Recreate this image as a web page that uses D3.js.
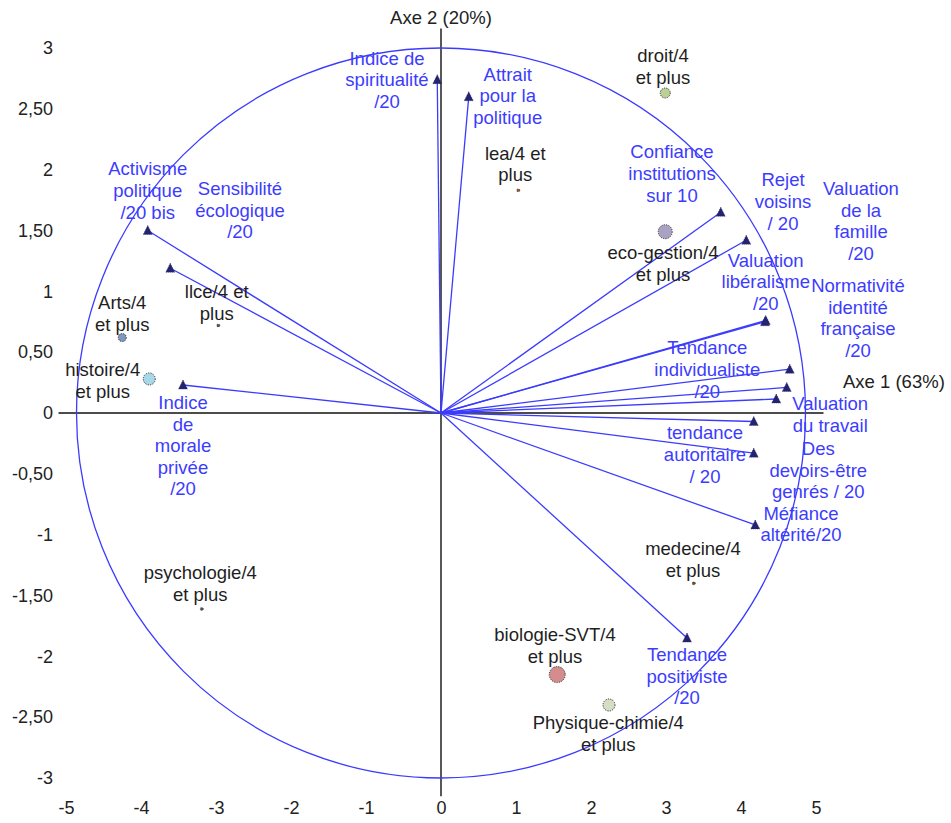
<!DOCTYPE html>
<html lang="fr">
<head>
<meta charset="UTF-8">
<title>ACP - cercle des correlations</title>
<script src="https://cdn.jsdelivr.net/npm/d3@7"></script>
<style>
  * { margin: 0; padding: 0; }
  body { background: #fff; }
  svg text { font-family: "Liberation Sans", Arial, sans-serif; }
</style>
</head>
<body>
<div id="chart"></div>
<script>
// ---- variables (arrows) ----
var varNames = [
  "Indice de\nspiritualité\n/20",
  "Attrait\npour la\npolitique",
  "Activisme\npolitique\n/20 bis",
  "Sensibilité\nécologique\n/20",
  "Indice\nde\nmorale\nprivée\n/20",
  "Confiance\ninstitutions\nsur 10",
  "Rejet\nvoisins\n/ 20",
  "Valuation\nde la\nfamille\n/20",
  "Valuation\nlibéralisme\n/20",
  "Normativité\nidentité\nfrançaise\n/20",
  "Tendance\nindividualiste\n/20",
  "Valuation\ndu travail",
  "Des\ndevoirs-être\ngenrés / 20",
  "tendance\nautoritaire\n/ 20",
  "Méfiance\naltérité/20",
  "Tendance\npositiviste\n/20"
];
var varX = [-0.05, 0.37, -3.91, -3.61, -3.44, 3.73, 4.07, 4.33, 4.32, 4.65, 4.61, 4.47, 4.17, 4.17, 4.19, 3.28];
var varY = [2.74, 2.60, 1.50, 1.19, 0.23, 1.65, 1.42, 0.76, 0.75, 0.36, 0.21, 0.115, -0.07, -0.33, -0.92, -1.85];
// label anchors (first line)
var varLabelX = [-0.72, 0.89, -3.91, -2.68, -3.44, 3.08, 4.56, 5.60, 4.33, 5.56, 3.55, 5.19, 5.03, 3.52, 4.80, 3.28];
var varLabelY = [2.92, 2.79, 2.01, 1.85, 0.09, 2.15, 1.92, 1.85, 1.26, 1.05, 0.54, 0.08, -0.29, -0.16, -0.82, -1.98];

// ---- individuals (supplementary points) ----
var indNames = [
  "droit/4\net plus", "lea/4 et\nplus", "eco-gestion/4\net plus", "Arts/4\net plus",
  "histoire/4\net plus", "llce/4 et\nplus", "psychologie/4\net plus", "medecine/4\net plus",
  "biologie-SVT/4\net plus", "Physique-chimie/4\net plus"
];
var indX = [2.99, 1.03, 2.99, -4.25, -3.89, -2.97, -3.19, 3.37, 1.55, 2.24];
var indY = [2.63, 1.83, 1.49, 0.62, 0.28, 0.72, -1.61, -1.40, -2.15, -2.40];
var indWeight = [5, 1.5, 7, 4, 6, 1.5, 1.5, 1.5, 8, 6];
var indColor = ["#bccf94", "#a0522d", "#aaa2c2", "#8098c0", "#a8d8e8", "#555555", "#555555", "#8b4513", "#d48c8c", "#d4dec4"];
var indLabelX = [2.96, 0.99, 2.96, -4.25, -4.51, -2.99, -3.21, 3.36, 1.52, 2.23];
var indLabelY = [2.94, 2.14, 1.32, 0.91, 0.36, 1.00, -1.31, -1.11, -1.82, -2.54];

// ---- axes ----
var xTicks = [-5, -4, -3, -2, -1, 0, 1, 2, 3, 4, 5];
var yTicks = [-3, -2.5, -2, -1.5, -1, -0.5, 0, 0.5, 1, 1.5, 2, 2.5, 3];
var circleRx = 4.86, circleRy = 3.0;
var axis1Title = "Axe 1 (63%)", axis2Title = "Axe 2 (20%)";

var width = 951, height = 823;
var blue = "#3b3bff", labelBlue = "#3c3cff";

var svg = d3.select("#chart").append("svg")
  .attr("width", width)
  .attr("height", height);

var x = d3.scaleLinear().domain([-5, 5]).range([66, 816]);
var y = d3.scaleLinear().domain([-3, 3]).range([778, 48]);

function fmt(d) {
  return d === Math.round(d) ? String(d) : d.toFixed(2).replace(".", ",");
}

// tick labels only, no tick marks
var yAxis = svg.append("g")
  .attr("transform", "translate(53,0)")
  .call(d3.axisLeft(y).tickValues(yTicks).tickSize(0).tickPadding(0).tickFormat(fmt));
var xAxis = svg.append("g")
  .attr("transform", "translate(0,808)")
  .call(d3.axisBottom(x).tickValues(xTicks).tickSize(0).tickPadding(0).tickFormat(fmt));
svg.selectAll(".domain").remove();
svg.selectAll(".tick text")
  .style("font-family", "'Liberation Sans', Arial, sans-serif")
  .style("font-size", "18px")
  .attr("fill", "#222");
xAxis.selectAll(".tick text").attr("y", 0).attr("dy", "0.35em");

// axis lines through origin
svg.append("line")
  .attr("x1", x(-5.1)).attr("x2", x(5.1))
  .attr("y1", y(0)).attr("y2", y(0))
  .attr("stroke", "#111").attr("stroke-width", 1.4);
svg.append("line")
  .attr("x1", x(0)).attr("x2", x(0))
  .attr("y1", y(3.16)).attr("y2", y(-3.15))
  .attr("stroke", "#111").attr("stroke-width", 1.4);

svg.append("text")
  .attr("x", x(0)).attr("y", y(3.25)).attr("dy", "0.35em")
  .attr("text-anchor", "middle")
  .style("font-size", "18.5px").attr("fill", "#222")
  .text(axis2Title);
svg.append("text")
  .attr("x", x(5.36)).attr("y", y(0.255)).attr("dy", "0.35em")
  .style("font-size", "18.5px").attr("fill", "#222")
  .text(axis1Title);

// correlation circle
svg.append("ellipse")
  .attr("cx", x(0)).attr("cy", y(0))
  .attr("rx", x(circleRx) - x(0))
  .attr("ry", y(0) - y(circleRy))
  .attr("fill", "none")
  .attr("stroke", blue).attr("stroke-width", 1.3);

// arrows
var vars = varNames.map(function(n, i) {
  return { name: n, x: varX[i], y: varY[i], lx: varLabelX[i], ly: varLabelY[i] };
});

svg.append("g").selectAll("line")
  .data(vars).enter().append("line")
  .attr("x1", x(0)).attr("y1", y(0))
  .attr("x2", function(d) { return x(d.x); })
  .attr("y2", function(d) { return y(d.y); })
  .attr("stroke", blue).attr("stroke-width", 1.3);

svg.append("g").selectAll("path")
  .data(vars).enter().append("path")
  .attr("transform", function(d) { return "translate(" + x(d.x) + "," + y(d.y) + ")"; })
  .attr("d", "M0,-5 L4.5,4 L-4.5,4 Z")
  .attr("fill", "#24246e")
  .attr("stroke", "#24246e").attr("stroke-width", 0.6)
  .attr("stroke-dasharray", "1,1");

// multi-line labels
function multiLabel(sel, color) {
  sel.each(function(d) {
    var t = d3.select(this);
    d.name.split("\n").forEach(function(line, k) {
      t.append("tspan")
        .attr("x", x(d.lx))
        .attr("y", y(d.ly) + k * 21.6)
        .text(line);
    });
  })
  .attr("text-anchor", "middle")
  .attr("dominant-baseline", "central")
  .style("font-size", "18.5px")
  .attr("fill", color);
}

svg.append("g").selectAll("text")
  .data(vars).enter().append("text")
  .call(multiLabel, labelBlue);

// individuals
var inds = indNames.map(function(n, i) {
  return { name: n, x: indX[i], y: indY[i], r: indWeight[i], c: indColor[i], lx: indLabelX[i], ly: indLabelY[i] };
});

svg.append("g").selectAll("text")
  .data(inds).enter().append("text")
  .call(multiLabel, "#1e1e1e");

svg.append("g").selectAll("circle")
  .data(inds).enter().append("circle")
  .attr("cx", function(d) { return x(d.x); })
  .attr("cy", function(d) { return y(d.y); })
  .attr("r", function(d) { return d.r; })
  .attr("fill", function(d) { return d.c; })
  .attr("stroke", "#333")
  .attr("stroke-width", function(d) { return d.r > 2 ? 1 : 0.8; })
  .attr("stroke-dasharray", "1.2,1.2");
</script>
</body>
</html>
